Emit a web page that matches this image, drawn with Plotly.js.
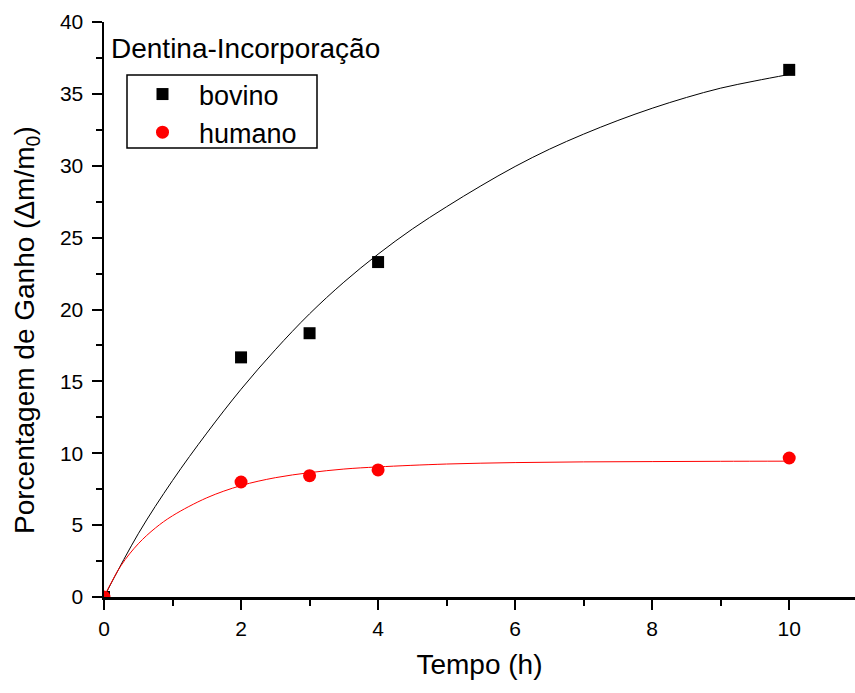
<!DOCTYPE html>
<html>
<head>
<meta charset="utf-8">
<script src="https://cdn.plot.ly/plotly-3.0.1.min.js"></script>
<style>html,body{margin:0;padding:0;background:#fff;}#chart{width:855px;height:693px;}</style>
</head>
<body>
<div id="chart"></div>
<script>
// Measured data points
const tempo = [0, 2, 3, 4, 10];
const bovino = [0, 16.67, 18.35, 23.3, 36.67];
const humano = [0, 8.0, 8.44, 8.84, 9.67];

// Fitted curves
const fitBovinoX = [0, 0.5, 1, 1.5, 2, 2.5, 3, 3.5, 4, 4.5, 5, 5.5, 6, 6.5, 7, 7.5, 8, 8.5, 9, 9.5, 10];
const fitBovinoY = [0, 4.4, 8.1, 11.4, 14.45, 17.2, 19.7, 21.9, 23.85, 25.6, 27.15, 28.6, 29.95, 31.15, 32.2, 33.15, 34.0, 34.75, 35.4, 35.9, 36.35];
const fitHumanoX = [0, 0.25, 0.5, 0.75, 1, 1.5, 2, 2.5, 3, 3.5, 4, 5, 6, 7, 8, 9, 10];
const fitHumanoY = [0, 2.2, 3.7, 4.8, 5.65, 6.9, 7.75, 8.3, 8.65, 8.9, 9.05, 9.25, 9.35, 9.4, 9.42, 9.44, 9.45];

const legendTitle = 'Dentina-Incorporação';
const xTitle = 'Tempo (h)';
const yTitle = 'Porcentagem de Ganho (Δm/m<sub>0</sub>)';

const FONT = 'Liberation Sans, Arial, Helvetica, sans-serif';

const traces = [
  {x: fitBovinoX, y: fitBovinoY, mode: 'lines', line: {color: '#000', width: 1, shape: 'spline', smoothing: 1}, showlegend: false, hoverinfo: 'skip'},
  {x: fitHumanoX, y: fitHumanoY, mode: 'lines', line: {color: '#ff0000', width: 1, shape: 'spline', smoothing: 1}, showlegend: false, hoverinfo: 'skip'},
  {x: tempo, y: bovino, mode: 'markers', name: 'bovino', marker: {symbol: 'square', size: 12, color: '#000'}},
  {x: tempo, y: humano, mode: 'markers', name: 'humano', marker: {symbol: 'circle', size: 13, color: '#ff0000'}}
];

const axisCommon = {
  showgrid: false, zeroline: false, showline: true, linecolor: '#000', linewidth: 2.5,
  ticks: 'outside', ticklen: 10, tickwidth: 2, tickcolor: '#000',
  tickfont: {family: FONT, size: 21, color: '#000'}
};

const W = 751, H = 575, L = 104, T = 22;
const px = v => (v - L) / W;
const py = v => 1 - (v - T) / H;

const layout = {
  width: 855, height: 693,
  margin: {l: L, r: 0, t: T, b: 96},
  paper_bgcolor: '#fff', plot_bgcolor: '#fff',
  font: {family: FONT, color: '#000'},
  xaxis: Object.assign({}, axisCommon, {
    range: [0, 10.96], dtick: 2, tick0: 0, ticklabelstandoff: 1,
    minor: {dtick: 1, ticks: 'outside', ticklen: 6, tickwidth: 2, tickcolor: '#000'},
    title: {text: xTitle, font: {family: FONT, size: 28, color: '#000'}, standoff: 16}
  }),
  yaxis: Object.assign({}, axisCommon, {
    range: [0, 40], dtick: 5, tick0: 0, ticklabelstandoff: 4,
    minor: {dtick: 2.5, ticks: 'outside', ticklen: 6, tickwidth: 2, tickcolor: '#000'}
  }),
  legend: {
    x: px(126), y: py(70), xanchor: 'left', yanchor: 'top',
    bgcolor: 'rgba(0,0,0,0)', borderwidth: 0,
    font: {family: FONT, size: 27, color: '#000'},
    itemwidth: 63, tracegroupgap: 0
  },
  shapes: [
    {type: 'rect', xref: 'paper', yref: 'paper', x0: px(127), x1: px(317), y0: py(75), y1: py(148),
     line: {color: '#000', width: 1.5}, fillcolor: 'rgba(0,0,0,0)', layer: 'above'}
  ],
  annotations: [
    {xref: 'paper', yref: 'paper', x: px(109), y: py(48), xanchor: 'left', yanchor: 'middle',
     text: legendTitle, showarrow: false, font: {family: FONT, size: 28, color: '#000'}},
    {xref: 'paper', yref: 'paper', x: px(27), y: py(330), xanchor: 'center', yanchor: 'middle',
     text: yTitle, textangle: -90, showarrow: false, font: {family: FONT, size: 28, color: '#000'}}
  ]
};

Plotly.newPlot('chart', traces, layout, {displayModeBar: false, staticPlot: true});
</script>
</body>
</html>
